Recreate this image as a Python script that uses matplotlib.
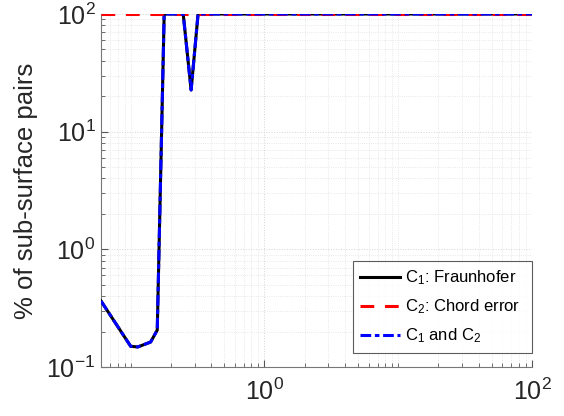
import numpy as np
import matplotlib
matplotlib.use("Agg")
import matplotlib.pyplot as plt
from matplotlib.ticker import LogLocator, FixedLocator, FuncFormatter, NullFormatter

plt.rcParams['font.family'] = ['Liberation Sans', 'DejaVu Sans']
plt.rcParams['mathtext.fontset'] = 'custom'
plt.rcParams['mathtext.rm'] = 'Liberation Sans'
plt.rcParams['mathtext.it'] = 'Liberation Sans:italic'

# values
x_c1 = [0.06, 0.1, 0.113, 0.141, 0.158, 0.178, 0.247, 0.283, 0.319, 100]
y_c1 = [0.364, 0.15, 0.148, 0.163, 0.206, 100, 100, 22.6, 100, 100]
x_c2 = [0.06, 100]
y_c2 = [100, 100]
x_both = x_c1
y_both = y_c1

fig = plt.figure(figsize=(5.64, 4.16), dpi=100)
ax = fig.add_axes([101/564, 49/416, 431/564, 353/416])

ax.plot(x_c1, y_c1, '-', color='black', lw=2.2, label=r'$\mathregular{C_1}$: Fraunhofer  ', zorder=3)
ax.plot(x_c2, y_c2, color='red', lw=2.2, dashes=(4.5, 3.5), label=r'$\mathregular{C_2}$: Chord error  ', zorder=4)
ax.plot(x_both, y_both, color='blue', lw=2.2, dashes=(3.5, 1.2, 1.5, 1.2), label=r'$\mathregular{C_1}$ and $\mathregular{C_2}$', zorder=5)

ax.set_xscale('log')
ax.set_yscale('log')
ax.set_xlim(0.06, 100)
ax.set_ylim(0.1, 100)

ax.xaxis.set_major_locator(FixedLocator([1, 100]))
ax.xaxis.set_minor_locator(LogLocator(base=10, subs=np.arange(1, 10), numticks=20))
ax.yaxis.set_major_locator(FixedLocator([0.1, 1, 10, 100]))
ax.yaxis.set_minor_locator(LogLocator(base=10, subs=np.arange(2, 10), numticks=20))
fmt = FuncFormatter(lambda v, p: r'$\mathregular{10^{%d}}$' % int(round(np.log10(v))))
ax.xaxis.set_major_formatter(fmt)
ax.yaxis.set_major_formatter(fmt)
ax.xaxis.set_minor_formatter(NullFormatter())
ax.yaxis.set_minor_formatter(NullFormatter())

ax.tick_params(which='both', direction='in', colors='#555555', labelcolor='#262626', labelsize=18)
ax.tick_params(which='major', length=5, width=0.8)
ax.tick_params(which='minor', length=3, width=0.6)
ax.tick_params(axis='x', pad=8)
ax.tick_params(axis='y', pad=4)

for s in ['top', 'right']:
    ax.spines[s].set_visible(False)
for s in ['left', 'bottom']:
    ax.spines[s].set_color('#777777')
    ax.spines[s].set_linewidth(0.8)

ax.grid(True, which='major', color='#d4d4d4', linestyle=':', lw=0.7)
ax.grid(True, which='minor', color='#e2e2e2', linestyle=':', lw=0.6)
ax.set_axisbelow(True)

ax.set_ylabel('% of sub-surface pairs', fontsize=18.5, color='#262626', labelpad=6)

leg = ax.legend(loc='lower right', bbox_to_anchor=(1.0, 0.04), fontsize=12, frameon=True,
                fancybox=False, edgecolor='#333333', handlelength=2.4, handletextpad=0.25,
                labelspacing=0.62, borderpad=0.45, borderaxespad=0.0)
leg.get_frame().set_linewidth(0.8)

fig.savefig('out.png', dpi=100, facecolor='white')
